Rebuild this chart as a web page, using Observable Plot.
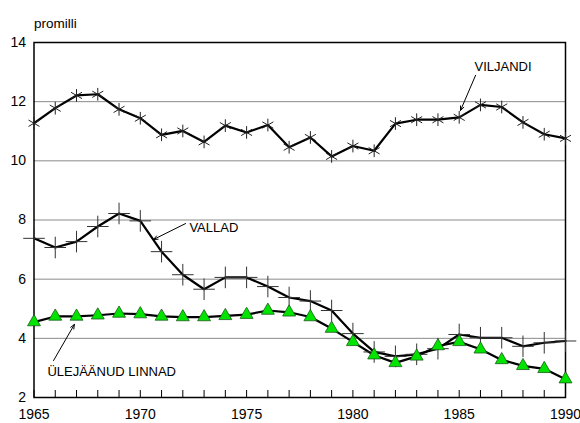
<!DOCTYPE html>
<html><head><meta charset="utf-8">
<script src="https://cdn.jsdelivr.net/npm/d3@7"></script>
<script src="https://cdn.jsdelivr.net/npm/@observablehq/plot@0.6"></script>
<style>
body{margin:0;background:#fff}
#wrap{position:relative;width:580px;height:423px}
#wrap svg{position:absolute;left:0;top:0}
</style>
</head><body><div id="wrap"></div>
<script>
const years = [1965,1966,1967,1968,1969,1970,1971,1972,1973,1974,1975,1976,1977,1978,1979,1980,1981,1982,1983,1984,1985,1986,1987,1988,1989,1990];
const viljandi = [11.27,11.78,12.21,12.25,11.74,11.44,10.88,11.01,10.64,11.19,10.96,11.21,10.46,10.79,10.15,10.5,10.34,11.26,11.39,11.39,11.47,11.89,11.82,11.3,10.9,10.76];
const vallad = [7.38,7.07,7.27,7.78,8.22,7.97,6.93,6.15,5.66,6.06,6.06,5.75,5.38,5.26,4.94,4.16,3.54,3.39,3.46,3.65,4.13,4.02,4.02,3.73,3.85,3.91];
const linnad = [4.55,4.74,4.74,4.78,4.84,4.82,4.74,4.72,4.72,4.76,4.8,4.94,4.88,4.72,4.33,3.88,3.43,3.17,3.39,3.74,3.88,3.63,3.27,3.07,2.97,2.62];
const xDomain = [1965, 1990];
const yDomain = [2, 14];
const yTicks = [2,4,6,8,10,12,14];
const gridTicks = [4,6,8,10,12];
const xLabelTicks = [1965,1970,1975,1980,1985,1990];
const unitLabel = "promilli";
const annotations = [
  {label: "VILJANDI", tx: 1985.72, ty: 13.19, x1: 1985.77, y1: 12.89, x2: 1985.06, y2: 11.70},
  {label: "VALLAD", tx: 1972.31, ty: 7.75, x1: 1972.13, y1: 7.88, x2: 1970.62, y2: 7.34},
  {label: "ÜLEJÄÄNUD LINNAD", tx: 1965.63, ty: 2.88, x1: 1965.92, y1: 3.25, x2: 1966.9, y2: 4.47}
];

const vRows = years.map((y, i) => ({year: y, value: viljandi[i]}));
const aRows = years.map((y, i) => ({year: y, value: vallad[i]}));
const lRows = years.map((y, i) => ({year: y, value: linnad[i]}));

const font = "'Liberation Sans', Arial, Helvetica, sans-serif";
const common = {
  width: 580, height: 423,
  marginLeft: 33.5, marginRight: 15, marginTop: 42, marginBottom: 26,
  x: {domain: xDomain, axis: null},
  y: {domain: yDomain, axis: null}
};

// Layer 1: background, grid, frame, year ticks, axis labels
const base = Plot.plot({
  ...common,
  style: {fontFamily: font, fontSize: "14px", background: "#fff", color: "#000"},
  marks: [
    Plot.gridY(gridTicks, {stroke: "#8a8a8a", strokeOpacity: 1, strokeWidth: 1}),
    Plot.axisY(yTicks, {tickSize: 0, tickPadding: 8, label: null, fontSize: 14}),
    Plot.axisX(years, {tickSize: -7, text: null, label: null, stroke: "#000"}),
    Plot.frame({stroke: "#000", strokeWidth: 1.5})
  ]
});

// Layer 2: data, annotations, x labels, unit label
const data = Plot.plot({
  ...common,
  style: {fontFamily: font, fontSize: "14px", background: "transparent", color: "#000", overflow: "visible"},
  marks: [
    Plot.text(xLabelTicks, {x: d => d, text: d => String(d), frameAnchor: "bottom", dy: 12, lineAnchor: "top", fontSize: 14}),
    Plot.text([unitLabel], {frameAnchor: "top-left", dy: -24, textAnchor: "start", fontSize: 13.5, text: d => d}),
    Plot.line(vRows, {x: "year", y: "value", stroke: "#000", strokeWidth: 2.2}),
    Plot.line(aRows, {x: "year", y: "value", stroke: "#000", strokeWidth: 2.2}),
    Plot.line(lRows, {x: "year", y: "value", stroke: "#000", strokeWidth: 2.2}),
    Plot.dot(vRows, {x: "year", y: "value", symbol: "asterisk", r: 6, stroke: "#222", strokeWidth: 1}),
    Plot.dot(aRows, {x: "year", y: "value", symbol: "plus", r: 7, stroke: "#333", strokeWidth: 1}),
    Plot.dot(lRows, {x: "year", y: "value", symbol: "triangle", r: 4.8, fill: "#00e400", stroke: "#1a5a1a", strokeWidth: 0.8}),
    Plot.arrow(annotations, {x1: "x1", y1: "y1", x2: "x2", y2: "y2", stroke: "#000", strokeWidth: 1, headLength: 7, headAngle: 45}),
    Plot.text(annotations, {x: "tx", y: "ty", text: "label", textAnchor: "start", fontSize: 13, fill: "#000"})
  ]
});

const wrap = document.getElementById("wrap");
wrap.appendChild(base);
wrap.appendChild(data);
</script>
</body></html>
